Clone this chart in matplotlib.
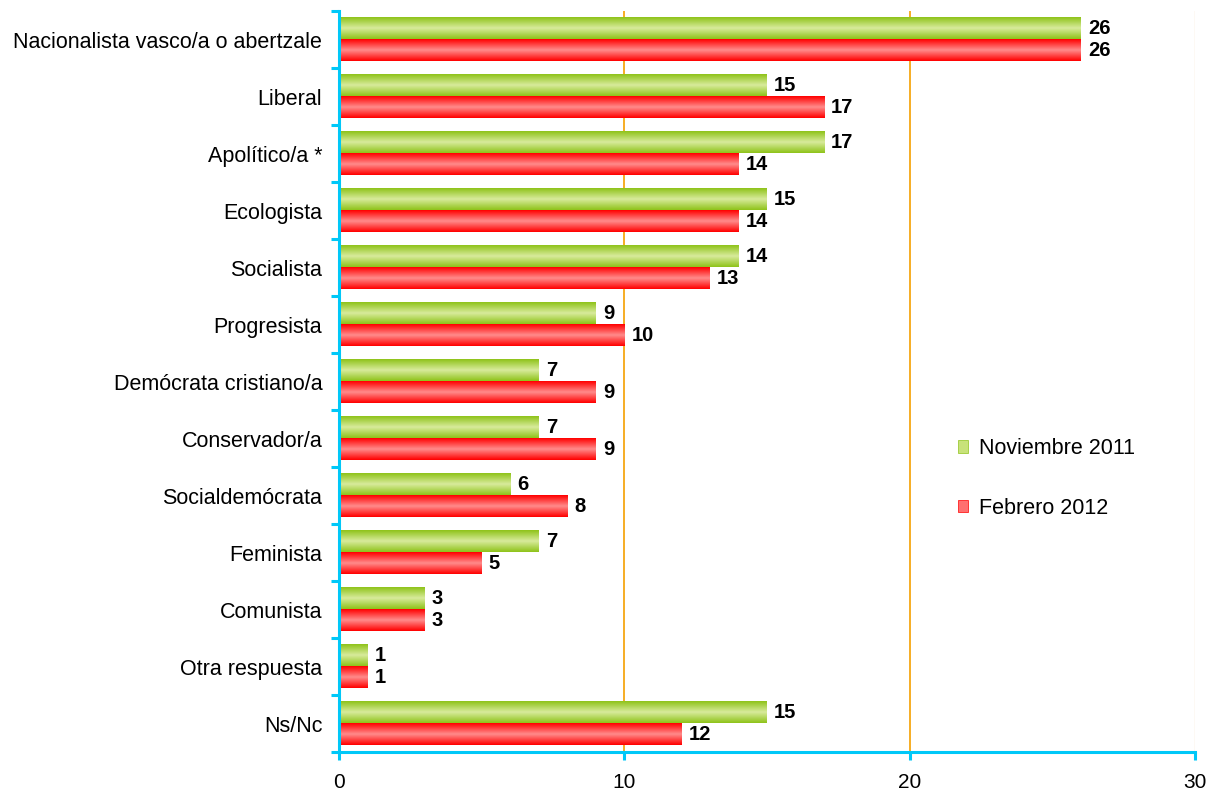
import numpy as np
import matplotlib.pyplot as plt
from matplotlib.colors import LinearSegmentedColormap
from matplotlib.patches import Patch

plt.rcParams['font.family'] = ['Liberation Sans', 'DejaVu Sans']

categorias = ['Nacionalista vasco/a o abertzale', 'Liberal', 'Apolítico/a *', 'Ecologista',
              'Socialista', 'Progresista', 'Demócrata cristiano/a', 'Conservador/a',
              'Socialdemócrata', 'Feminista', 'Comunista', 'Otra respuesta', 'Ns/Nc']
nov_2011 = [26, 15, 17, 15, 14, 9, 7, 7, 6, 7, 3, 1, 15]
feb_2012 = [26, 17, 14, 14, 13, 10, 9, 9, 8, 5, 3, 1, 12]
series = ['Noviembre 2011', 'Febrero 2012']

verde = LinearSegmentedColormap.from_list('verde', ['#8fc31a', '#d8eb9c', '#8fc31a'])
rojo = LinearSegmentedColormap.from_list('rojo', ['#ff0000', '#ff8c8c', '#ff0000'])
grad = np.linspace(0, 1, 64).reshape(-1, 1)

fig = plt.figure(figsize=(12.16, 7.92), dpi=100)
ax = fig.add_axes([0.2788, 0.0505, 0.7039, 0.9356])

n = len(categorias)
h = 0.37
for i, (a, b) in enumerate(zip(nov_2011, feb_2012)):
    y = n - 1 - i
    # verde arriba, rojo abajo
    ax.imshow(grad, cmap=verde, aspect='auto', extent=(0, a, y + 0.015, y + 0.015 + h), zorder=3)
    ax.imshow(grad, cmap=rojo, aspect='auto', extent=(0, b, y - 0.015 - h, y - 0.015), zorder=3)
    ax.text(a + 0.25, y + 0.015 + h / 2, str(a), va='center', ha='left', fontsize=14.5, fontweight='bold', zorder=4)
    ax.text(b + 0.25, y - 0.015 - h / 2, str(b), va='center', ha='left', fontsize=14.5, fontweight='bold', zorder=4)

ax.set_xlim(0, 30)
ax.set_ylim(-0.5, n - 0.5)
ax.set_xticks([0, 10, 20, 30])
ax.set_yticks(np.arange(n))
ax.set_yticklabels(categorias[::-1], fontsize=15.5)
ax.set_yticks(np.arange(n + 1) - 0.5, minor=True)
ax.tick_params(axis='y', which='major', length=0, pad=12)
ax.tick_params(axis='y', which='minor', length=6, width=2.2, color='#00c8f8', direction='out')
ax.tick_params(axis='x', length=6, width=2.2, color='#00c8f8', direction='out', labelsize=15, pad=9)

for v in [10, 20]:
    ax.axvline(v, color='#f5a000', lw=1.2, zorder=1)
ax.axvline(30, color='#f8e4c8', lw=1, zorder=1)

for s in ['top', 'right']:
    ax.spines[s].set_visible(False)
for s in ['left', 'bottom']:
    ax.spines[s].set_color('#00c8f8')
    ax.spines[s].set_linewidth(2.2)
    ax.spines[s].set_zorder(5)

handles = [Patch(facecolor='#c8e27a', edgecolor='#8fc31a', lw=0.5),
           Patch(facecolor='#ff7070', edgecolor='#ff0000', lw=0.5)]
ax.legend(handles, series, loc='center left', bbox_to_anchor=(0.70, 0.369), frameon=False,
          fontsize=15.5, handlelength=0.5, handleheight=0.5, handletextpad=0.5, labelspacing=1.8)

fig.savefig('out.png', dpi=100)
